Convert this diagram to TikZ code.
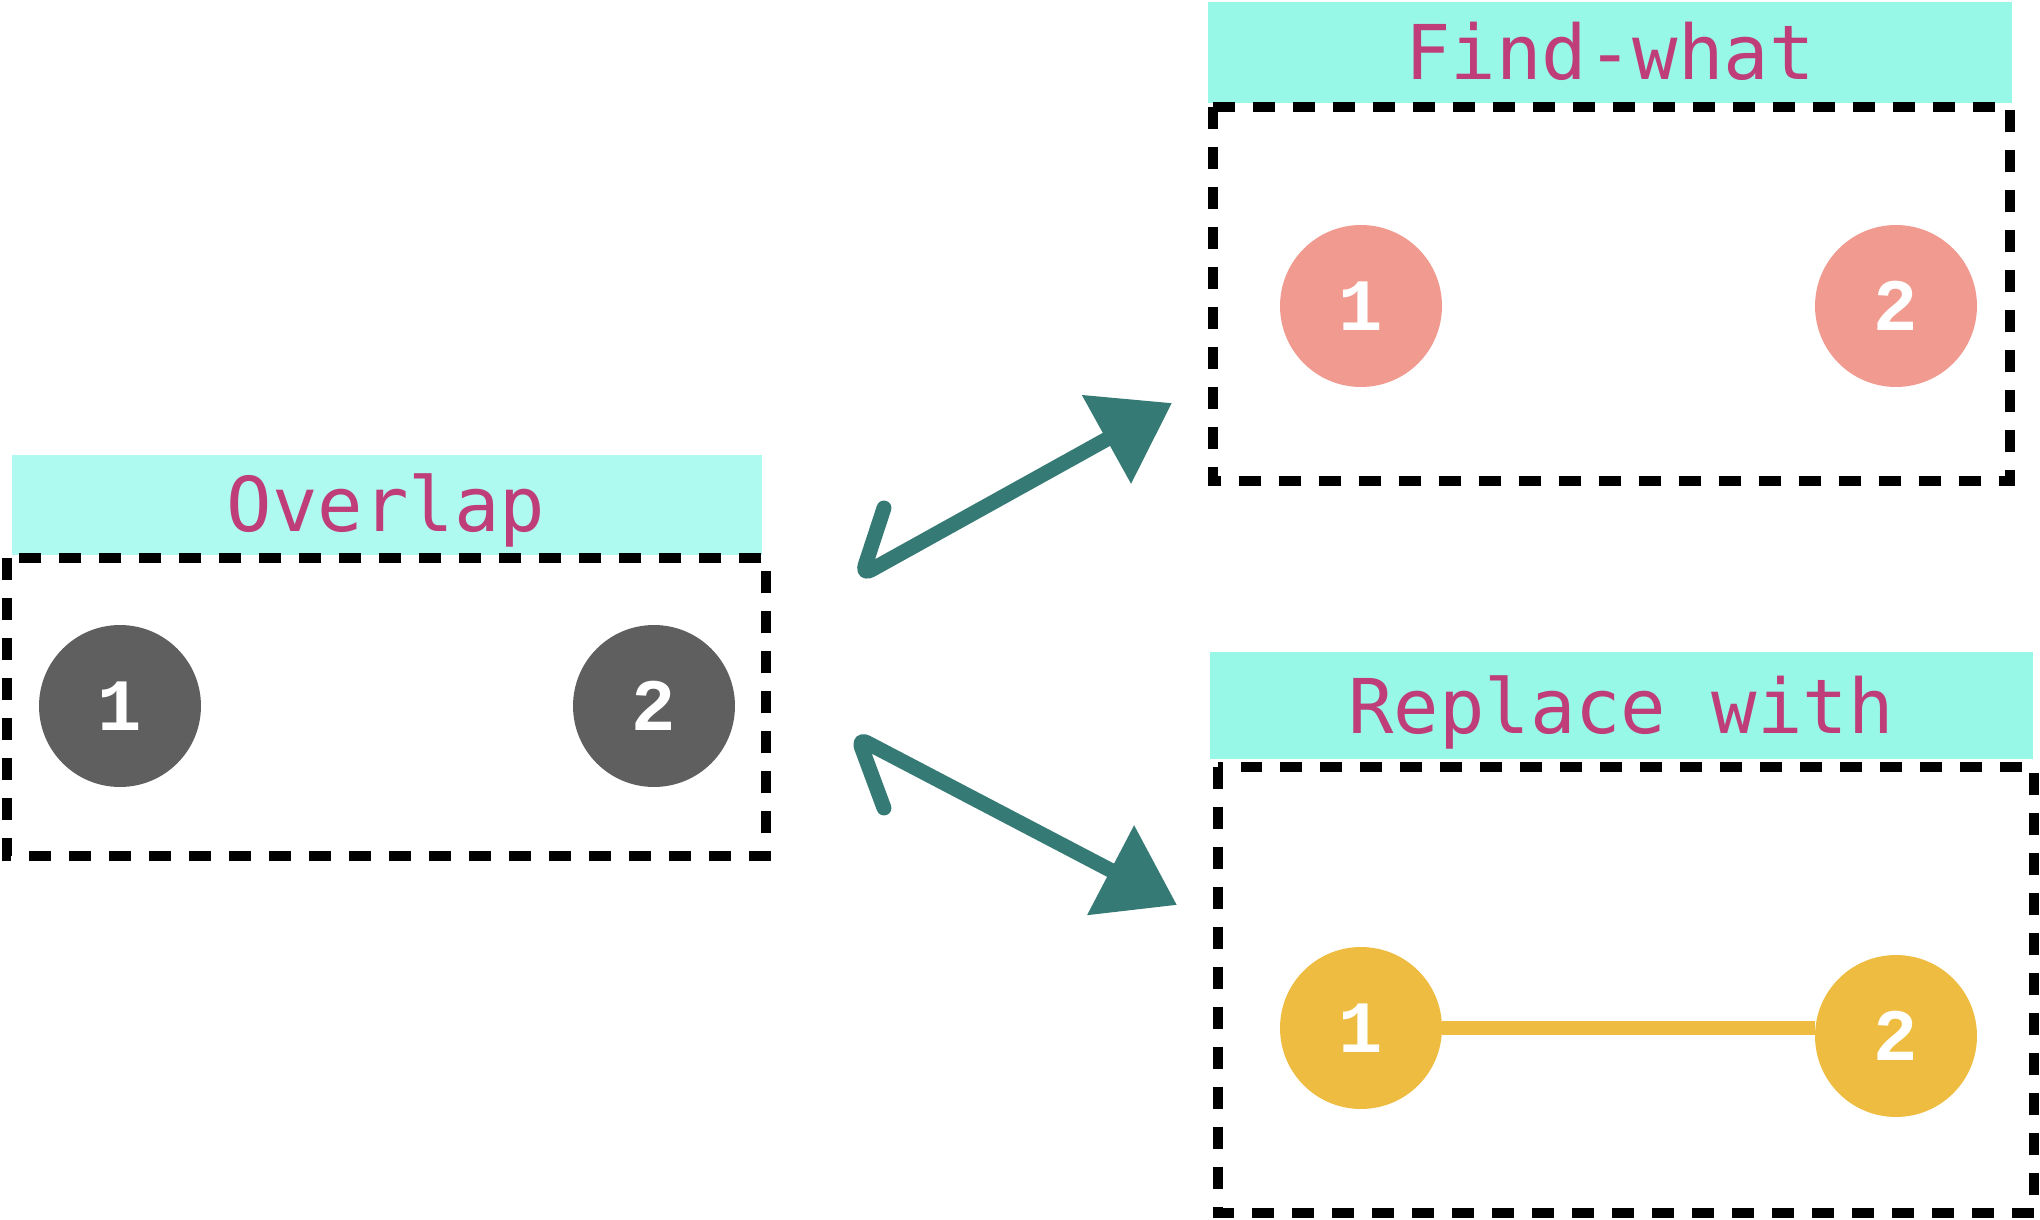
\documentclass[tikz,border=0pt]{standalone}
\usepackage{fontspec}
\newfontfamily\tagfont{DejaVu Sans Mono}
\newfontfamily\digitfont{Liberation Mono}
\usetikzlibrary{arrows.meta}
\definecolor{tagcyan}{HTML}{98F8E8}
\definecolor{tagcyanlight}{HTML}{AEFAF0}
\definecolor{tagtext}{HTML}{BF3D78}
\definecolor{nodegray}{HTML}{5F5F5F}
\definecolor{nodesalmon}{HTML}{F19B90}
\definecolor{nodegold}{HTML}{EEBC40}
\definecolor{arrowteal}{HTML}{357A74}

\begin{document}
\begin{tikzpicture}[x=0.02cm, y=-0.02cm,
    tag/.style={anchor=base, text=tagtext, font=\tagfont\fontsize{43}{43}\selectfont},
    dashbox/.style={draw=black, line width=5.2pt, dash pattern=on 0.44cm off 0.36cm},
    dot/.style={circle, minimum size=3.24cm, inner sep=0pt, text=white, font=\digitfont\bfseries\fontsize{42}{42}\selectfont},
    sketch/.style={draw=arrowteal, line width=8.5pt, line cap=round, line join=round, rounded corners=0.2cm, -{Triangle[length=1.5cm, width=1.95cm]}}
  ]
      % \draw[very thin, gray, step=100] (0,0) grid (2040,1220);
      \useasboundingbox (0,0) rectangle (2040,1220);

      \draw[draw=tagcyanlight,fill=tagcyanlight] (12,455) rectangle (761,554);
      \node[tag] (overlap) at (386,531) {Overlap};
      \draw[dashbox] (7,558) rectangle (766,856);
      \node[dot, fill=nodegray] (ov1) at (120,706) {1};
      \node[dot, fill=nodegray] (ov2) at (654,706) {2};

      \draw[draw=tagcyan,fill=tagcyan] (1208,2) rectangle (2011,102);
      \node[tag] (findwhat) at (1610,80) {Find-what};
      \draw[dashbox] (1213,107) rectangle (2010,481);
      \node[dot, fill=nodesalmon] (fw1) at (1361,306) {1};
      \node[dot, fill=nodesalmon] (fw2) at (1896,306) {2};

      \draw[draw=tagcyan,fill=tagcyan] (1210,652) rectangle (2032,758);
      \node[tag] (replace) at (1621,733) {Replace with};
      \draw[dashbox] (1218,767) rectangle (2034,1213);
      \node[dot, fill=nodegold] (rw1) at (1361,1028) {1};
      \node[dot, fill=nodegold] (rw2) at (1896,1036) {2};
      \draw[draw=nodegold, line width=7.5pt] (rw1.east) -- (rw1.east -| rw2.west);

      \coordinate (upbarb) at (884,508);
      \coordinate (upbend) at (862,575);
      \coordinate (uptip) at (1172,403);
      \draw[sketch] (upbarb) -- (upbend) -- (uptip);

      \coordinate (lowbarb) at (884,808);
      \coordinate (lowbend) at (858,738);
      \coordinate (lowtip) at (1177,905);
      \draw[sketch] (lowbarb) -- (lowbend) -- (lowtip);
    \end{tikzpicture}
\end{document}
